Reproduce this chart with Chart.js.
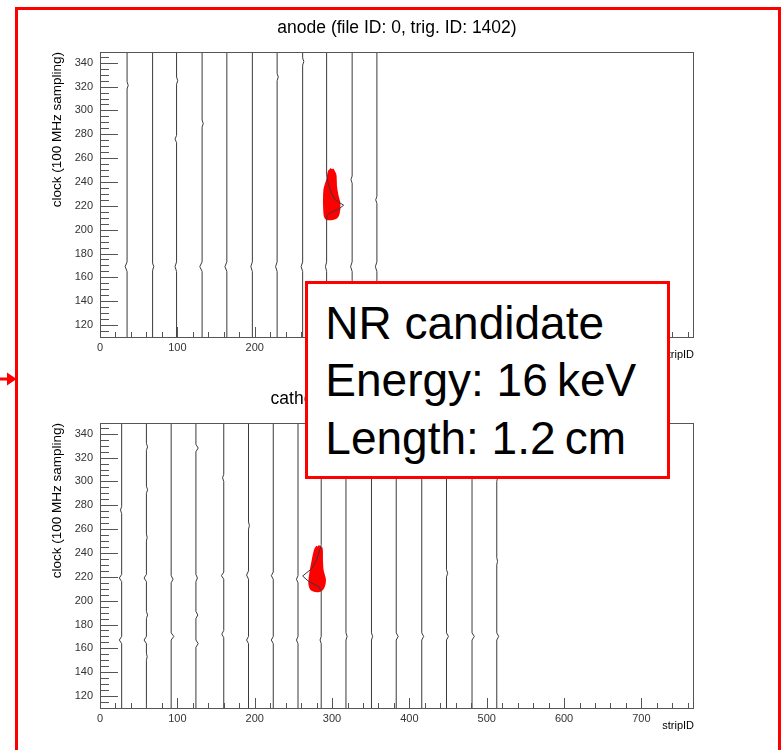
<!DOCTYPE html>
<html>
<head>
<meta charset="utf-8">
<script src="https://cdn.jsdelivr.net/npm/chart.js@4.4.1/dist/chart.umd.min.js"></script>
<style>
  body { margin: 0; background: #fff; overflow: hidden; width: 782px; height: 750px; position: relative; font-family: "Liberation Sans", Arial, sans-serif; }
  canvas { position: absolute; left: 0; }
  #anode { top: 0; }
  #cathode { top: 375px; }
  .frame { position: absolute; left: 15px; top: 7px; width: 766px; height: 800px; border: 3.5px solid #ff0000; box-sizing: border-box; }
  .arrow { position: absolute; left: 0; top: 371px; }
  .note { position: absolute; left: 305px; top: 281px; width: 365px; height: 198px; box-sizing: border-box;
          border: 3.5px solid #ff0000; background: #fff; padding: 10.8px 0 0 17.3px;
          font-size: 46px; line-height: 57.5px; color: #000; white-space: nowrap; }
</style>
</head>
<body>
<canvas id="anode" width="782" height="375"></canvas>
<canvas id="cathode" width="782" height="375"></canvas>
<div class="frame"></div>
<svg class="arrow" width="18" height="16"><path d="M0 6.5 H7 V1.5 L16.5 8 L7 14.5 V9.5 H0 Z" fill="#ff0000"/></svg>
<div class="note">NR candidate<br>Energy: 16&#8201;keV<br>Length: 1.2&#8201;cm</div>

<script>
////Data/////

var stripMax = 768;
var clockMin = 110;
var clockMax = 349;
var xTickValues = [0, 100, 200, 300, 400, 500, 600, 700];
var yTickValues = [120, 140, 160, 180, 200, 220, 240, 260, 280, 300, 320, 340];

// strip positions of the drawn waveforms
var anodeStrips = [35, 68, 99, 132, 164, 197, 229, 262, 293, 326, 358];
var cathodeStrips = [28, 60, 92, 124, 160, 192, 224, 256, 286, 318, 351, 383, 416, 448, 481, 513];

// waveform shapes: [clock, offset from strip], only where the trace leaves its baseline
var anodeWaves = [
  [[165, 0], [169, -2.5], [173, 0], [318, 0], [321, 1.5], [324, 0]],
  [[166, 0], [169, 1.5], [172, 0]],
  [[165, 0], [169, -2], [173, 0], [273, 0], [276, -2], [279, 0], [322, 0], [325, 1.5], [328, 0]],
  [[165, 0], [169, -3], [173, 0], [286, 0], [289, 1.5], [292, 0]],
  [[165, 0], [169, -2.5], [173, 0]],
  [[165, 0], [169, -2], [173, 0]],
  [[165, 0], [169, -2], [173, 0], [325, 0], [328, 1.5], [331, 0]],
  [[165, 0], [169, -2], [173, 0], [338, 0], [341, 1.5], [344, 0]],
  [[165, 0], [169, -1.5], [173, 0], [209, 0], [212, 1], [214, 4], [217, 15], [220.5, 22], [225, 11], [230, 6.5], [239, 2], [246, 0]],
  [[165, 0], [169, -2], [173, 0], [239, 0], [242, -1.5], [245, 0]],
  [[165, 0], [169, -2], [173, 0], [222, 0], [225, -1.5], [228, 0]]
];

var cathodeWaves = [
  [[164, 0], [167, -3], [170, 0], [216, 0], [219, -3], [222, 0], [273, 0], [276, -1.5], [279, 0]],
  [[150, 0], [153, 1], [156, 0], [164, 0], [167, -3], [170, 0], [185, 0], [188, 1.5], [191, 0], [216, 0], [219, -3], [222, 0],
   [250, 0], [253, 1], [256, 0], [290, 0], [293, 1.5], [296, 0], [326, 0], [329, 1.5], [332, 0]],
  [[167, 0], [170, 3.5], [173, 0], [215, 0], [218, 2.5], [221, 0]],
  [[161, 0], [164, 3], [167, 0], [185, 0], [188, 2.5], [191, 0], [216, 0], [219, 2], [222, 0], [325, 0], [328, 3], [331, 0]],
  [[169, 0], [172, -2.5], [175, 0], [218, 0], [221, -3], [224, 0], [300, 0], [303, -1.5], [306, 0]],
  [[164, 0], [167, -2.5], [170, 0], [218, 0], [221.5, -2.5], [225, 0], [260, 0], [263, 1.2], [266, 0]],
  [[164, 0], [167, -2.5], [170, 0], [218, 0], [221, -2.5], [224, 0]],
  [[164, 0], [167, -2], [170, 0], [215, 0], [218, -2], [221, 0]],
  [[164, 0], [167, -1.5], [170, 0], [208, 0], [211.7, -3], [216, -16], [220.7, -24], [227, -12], [234, -6], [244, -1], [247, 0]],
  [[167, 0], [170, 1.5], [173, 0]],
  [[167, 0], [170, 1.5], [173, 0]],
  [[167, 0], [170, 2.5], [173, 0]],
  [[167, 0], [170, 2.5], [173, 0]],
  [[167, 0], [170, 2.5], [173, 0], [220, 0], [223, 1.5], [226, 0]],
  [[167, 0], [170, 3], [173, 0]],
  [[167, 0], [170, 2.5], [173, 0], [230, 0], [233, 1], [236, 0], [300, 0], [303, 1], [306, 0]]
];

// outline of the red hit cluster: [strip, clock]
var anodeHits = [[299.9, 250.6], [303.4, 245.9], [304.2, 236], [306.4, 227.7], [308.6, 222.2], [307.7, 213.9], [304.2, 210.2],
  [293.4, 209.7], [291.1, 213.9], [291.1, 233.3], [294.7, 241.7], [296.9, 248.6], [299.9, 250.6]];
var cathodeHits = [[281.6, 245.3], [285.5, 244], [286, 234.1], [286.8, 225.7], [289.9, 217.3], [288.2, 211.7], [284.6, 208.9],
  [274.7, 209.5], [271.6, 214.5], [272.9, 222.9], [276, 234.1], [279, 242.5], [281.6, 245.3]];

////Build datasets/////

function waveData(strip, wave) {
  var pts = [{x: strip, y: clockMin}];
  wave.forEach(function(p) { pts.push({x: strip + p[1], y: p[0]}); });
  pts.push({x: strip, y: clockMax});
  return pts;
}

function makeDatasets(strips, waves, hits) {
  var sets = [];
  strips.forEach(function(s, i) {
    sets.push({
      data: waveData(s, waves[i]),
      showLine: true, borderColor: '#3a3a3a', borderWidth: 1,
      pointRadius: 0, tension: 0
    });
  });
  // hit cluster goes last so it is painted under the traces
  sets.push({
    data: hits.map(function(h) { return {x: h[0], y: h[1]}; }),
    showLine: true, fill: 'shape', backgroundColor: '#ff0000',
    borderColor: '#ff0000', borderWidth: 3.5, borderJoinStyle: 'round',
    pointRadius: 0, tension: 0.3
  });
  return sets;
}

////ROOT style frame and inward ticks/////

var rootAxes = {
  id: 'rootAxes',
  afterDatasetsDraw: function(chart) {
    var ctx = chart.ctx;
    var area = chart.chartArea;
    var xs = chart.scales.x;
    var ys = chart.scales.y;
    ctx.save();
    ctx.strokeStyle = '#555';
    ctx.lineWidth = 1;
    ctx.beginPath();
    for (var sx = 0; sx <= stripMax; sx += 20) {
      var px = Math.round(xs.getPixelForValue(sx)) + 0.5;
      var len = sx % 100 === 0 ? 10 : 5;
      ctx.moveTo(px, area.bottom);
      ctx.lineTo(px, area.bottom - len);
    }
    for (var cy = clockMin; cy <= clockMax; cy += 5) {
      var py = Math.round(ys.getPixelForValue(cy)) + 0.5;
      var len2 = cy % 20 === 0 ? 18 : 9;
      ctx.moveTo(area.left, py);
      ctx.lineTo(area.left + len2, py);
    }
    ctx.stroke();
    ctx.strokeRect(Math.round(area.left) + 0.5, Math.round(area.top) + 0.5,
      Math.round(area.right - area.left) - 1, Math.round(area.bottom - area.top));
    ctx.restore();
  }
};

function makeChart(id, title, strips, waves, hits, lay) {
  var font = "'Liberation Sans', Arial, sans-serif";
  return new Chart(document.getElementById(id), {
    type: 'scatter',
    data: { datasets: makeDatasets(strips, waves, hits) },
    plugins: [rootAxes],
    options: {
      responsive: false,
      animation: false,
      devicePixelRatio: 1,
      layout: { padding: { left: 46, right: 88, top: 0, bottom: 0 } },
      plugins: {
        legend: { display: false },
        tooltip: { enabled: false },
        title: {
          display: true, text: title, color: '#000', fullSize: false,
          font: { family: font, size: 17.5, weight: 'normal' },
          padding: { top: lay.titleTop, bottom: lay.titleBottom }
        }
      },
      scales: {
        x: {
          type: 'linear', min: 0, max: stripMax,
          afterFit: function(s) { s.height = lay.xHeight; },
          afterBuildTicks: function(s) { s.ticks = xTickValues.map(function(v) { return {value: v}; }); },
          grid: { display: false, drawTicks: false },
          border: { display: false },
          ticks: { padding: 4, color: '#333', font: { family: font, size: 11 }, maxRotation: 0 },
          title: { display: true, text: 'stripID', align: 'end', color: '#000',
                   font: { family: font, size: 11 }, padding: { top: 0, bottom: lay.xTitlePad } }
        },
        y: {
          type: 'linear', min: clockMin, max: clockMax,
          afterFit: function(s) { s.width = 54; },
          afterBuildTicks: function(s) { s.ticks = yTickValues.map(function(v) { return {value: v}; }); },
          grid: { display: false, drawTicks: false },
          border: { display: false },
          ticks: { padding: 7, color: '#333', font: { family: font, size: 11 } },
          title: { display: true, text: 'clock (100 MHz sampling)', align: 'end', color: '#000',
                   font: { family: font, size: 13.5 }, padding: { top: 3, bottom: 0 } }
        }
      }
    }
  });
}

makeChart('anode', 'anode (file ID: 0, trig. ID: 1402)', anodeStrips, anodeWaves, anodeHits,
  { titleTop: 17.5, titleBottom: 13.5, xHeight: 38, xTitlePad: 13.4 });
makeChart('cathode', 'cathode (file ID: 0, trig. ID: 1402)', cathodeStrips, cathodeWaves, cathodeHits,
  { titleTop: 13.5, titleBottom: 13.5, xHeight: 42, xTitlePad: 17.4 });
</script>
</body>
</html>
